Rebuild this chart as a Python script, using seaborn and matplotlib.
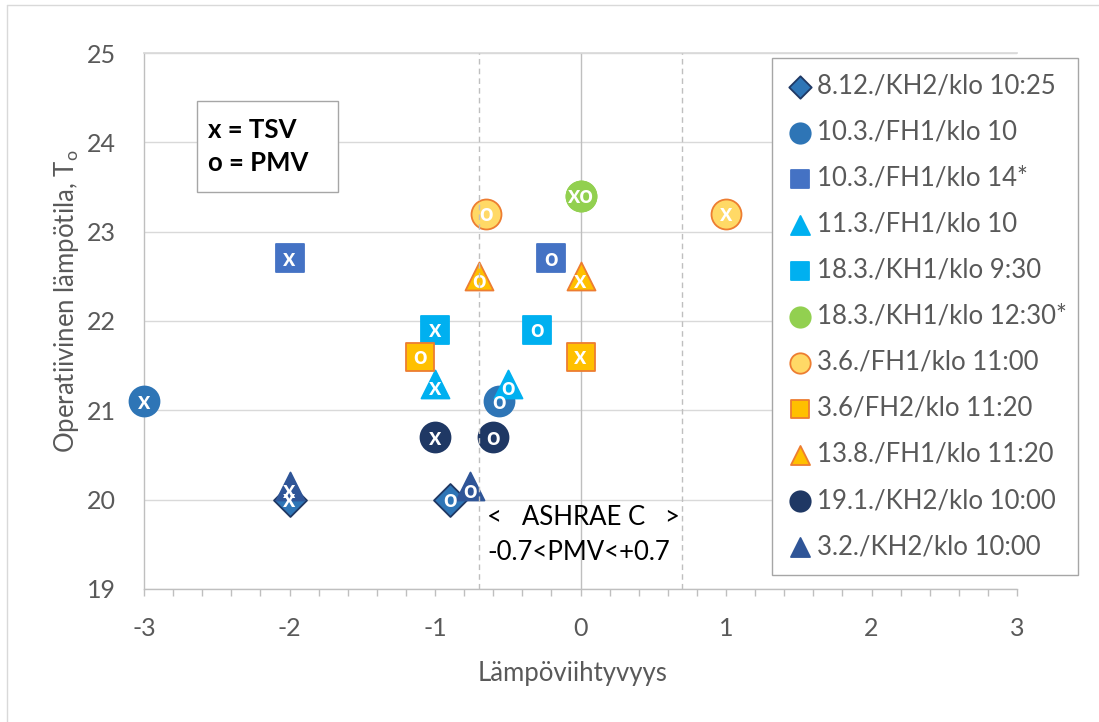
import matplotlib
matplotlib.use("Agg")
import matplotlib.pyplot as plt
import seaborn as sns
import pandas as pd
from matplotlib.patches import Rectangle
from matplotlib.lines import Line2D
from matplotlib.transforms import offset_copy
from matplotlib.ticker import MultipleLocator

# ---------------- data ----------------
series = ["8.12./KH2/klo 10:25", "10.3./FH1/klo 10", "10.3./FH1/klo 14*",
          "11.3./FH1/klo 10", "18.3./KH1/klo 9:30", "18.3./KH1/klo 12:30*",
          "3.6./FH1/klo 11:00", "3.6/FH2/klo 11:20", "13.8./FH1/klo 11:20",
          "19.1./KH2/klo 10:00", "3.2./KH2/klo 10:00"]
tsv = [-2, -3, -2, -1, -1, 0, 1, 0, 0, -1, -2]
pmv = [-0.9, -0.56, -0.2, -0.5, -0.3, 0, -0.65, -1.1, -0.7, -0.6, -0.76]
temp = [20.0, 21.1, 22.7, 21.3, 21.9, 23.4, 23.2, 21.6, 22.5, 20.7, 20.15]
ashrae_limits = [-0.7, 0.7]

markers = ["D", "o", "s", "^", "s", "o", "o", "s", "^", "o", "^"]
fills = ["#2E75B6", "#2E75B6", "#4472C4", "#00B0F0", "#00B0F0", "#92D050",
         "#FFD966", "#FFC000", "#FFC000", "#1F3864", "#2F5597"]
edges = ["#1F3864", "#2E75B6", "#4472C4", "#00B0F0", "#00B0F0", "#92D050",
         "#ED7D31", "#ED7D31", "#ED7D31", "#1F3864", "#2F5597"]
sizes = {"D": 282, "o": 466, "s": 378, "^": 406}

# ---------------- style ----------------
sns.set_theme(style="white")
plt.rcParams["font.family"] = ["Lato", "DejaVu Sans"]
plt.rcParams["mathtext.fontset"] = "custom"
plt.rcParams["mathtext.rm"] = "Lato"
plt.rcParams["axes.unicode_minus"] = False

W, H = 1099, 722
fig = plt.figure(figsize=(W / 100, H / 100), dpi=100)
fig.patch.set_facecolor("white")
ax = fig.add_axes([144 / W, 1 - 589 / H, 873 / W, 536 / H])

grey = "#595959"
ax.set_xlim(-3, 3)
ax.set_ylim(19, 25)
ax.set_xticks(range(-3, 4))
ax.xaxis.set_minor_locator(MultipleLocator(0.2))
ax.set_yticks(range(19, 26))
ax.yaxis.grid(True, color="#D9D9D9", lw=1, zorder=0)
ax.xaxis.grid(False)
ax.set_axisbelow(True)
ax.spines["right"].set_visible(False)
ax.spines["top"].set_color("#D9D9D9")
for s in ["left", "bottom"]:
    ax.spines[s].set_color("#BFBFBF")
    ax.spines[s].set_linewidth(1)
ax.tick_params(axis="x", which="both", direction="out", length=5, width=1,
               color="#BFBFBF", labelsize=18, labelcolor=grey, pad=15, bottom=True)
ax.tick_params(axis="y", length=0, labelsize=18, labelcolor=grey, pad=20, left=False)

ax.axvline(0, color="#BFBFBF", lw=1, zorder=1)
for lim in ashrae_limits:
    ax.axvline(lim, color="#BFBFBF", lw=1, ls=(0, (4, 3)), zorder=6)

# ---------------- points ----------------
for i, name in enumerate(series):
    df = pd.DataFrame({"x": [tsv[i], pmv[i]], "y": [temp[i], temp[i]]})
    m = markers[i]
    sns.scatterplot(data=df, x="x", y="y", marker=m, s=sizes[m], color=fills[i],
                    edgecolor=edges[i], linewidth=1.3, label=name, ax=ax,
                    zorder=3, clip_on=False)
    dy = -3 if m == "^" else 0
    tr = offset_copy(ax.transData, fig=fig, x=0, y=dy, units="points")
    kw = dict(ha="center", va="center", color="white", fontweight="bold",
              fontsize=17, zorder=4, transform=tr, clip_on=False)
    if tsv[i] == pmv[i]:
        ax.text(tsv[i], temp[i], "xo", **kw)
    else:
        ax.text(tsv[i], temp[i], "x", **kw)
        ax.text(pmv[i], temp[i], "o", **kw)

ax.set_xlabel("Lämpöviihtyvyys", fontsize=18.5, color=grey)
ax.set_ylabel(r"Operatiivinen lämpötila, T$_{\rm o}$", fontsize=18.5, color=grey)
ax.xaxis.set_label_coords(0.491, -0.134)
ax.yaxis.set_label_coords(-0.072, 0.537)

# ---------------- legend ----------------
leg = ax.legend(loc="upper left", bbox_to_anchor=(0.7194, 0.0, 0.3505, 0.9907),
                mode="expand", frameon=True, fancybox=False, edgecolor="#A6A6A6",
                framealpha=1, fontsize=18.5, labelcolor=grey, markerscale=0.68,
                handletextpad=0.15, borderaxespad=0, labelspacing=0.82,
                handlelength=1.0, borderpad=0.6)
leg.get_frame().set_linewidth(1)
leg.set_zorder(10)

# ---------------- text boxes ----------------
ax.add_patch(Rectangle((0.0607, 0.7407), 0.1615, 0.1697, transform=ax.transAxes,
                       fc="white", ec="#A6A6A6", lw=1, zorder=7))
ax.text(0.0733, 0.856, "x = TSV", transform=ax.transAxes, va="center", ha="left",
        fontsize=18.5, fontweight="bold", color="black", zorder=8)
ax.text(0.0733, 0.795, "o = PMV", transform=ax.transAxes, va="center", ha="left",
        fontsize=18.5, fontweight="bold", color="black", zorder=8)

ax.text(0.393, 0.134, "<   ASHRAE C   >", transform=ax.transAxes, va="center",
        ha="left", fontsize=18.5, color="black", zorder=8)
ax.text(0.393, 0.069, "-0.7<PMV<+0.7", transform=ax.transAxes, va="center",
        ha="left", fontsize=18.5, color="black", zorder=8)

# ---------------- figure frame ----------------
fig.add_artist(Line2D([7 / W, 7 / W], [0, 1 - 5 / H], transform=fig.transFigure,
                      color="#D9D9D9", lw=1))
fig.add_artist(Line2D([7 / W, 1], [1 - 5 / H, 1 - 5 / H], transform=fig.transFigure,
                      color="#D9D9D9", lw=1))

fig.savefig("out.png", dpi=100)
